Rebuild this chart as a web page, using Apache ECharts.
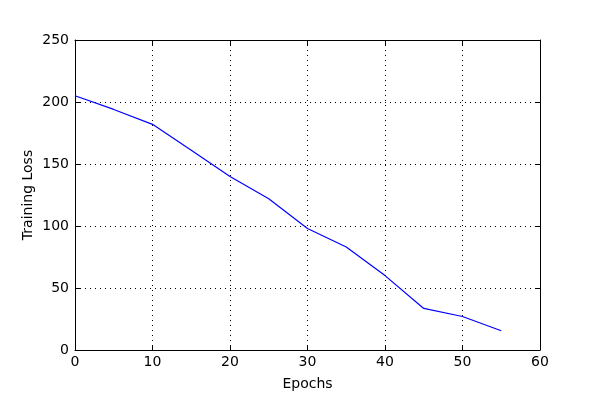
<!DOCTYPE html>
<html>
<head>
<meta charset="utf-8">
<script src="https://cdn.jsdelivr.net/npm/echarts@6/dist/echarts.min.js"></script>
<style>html,body{margin:0;padding:0;background:#fff}#c{width:600px;height:400px}</style>
</head>
<body>
<div id="c"></div>
<script>
const epochs = [0, 5, 10, 15, 20, 25, 30, 35, 40, 45, 50, 55];
const loss = [205, 194, 182, 161, 140, 122, 98, 83, 60, 33.5, 27, 15.5];
const xTicks = [0, 10, 20, 30, 40, 50, 60];
const yTicks = [0, 50, 100, 150, 200, 250];

const font = 'DejaVu Sans';
const chart = echarts.init(document.getElementById('c'));
const gridLine = {show: true, lineStyle: {color: '#000', type: [1, 4], width: 1}};
const axisLineStyle = {show: true, onZero: false, lineStyle: {color: '#000', width: 1}};
const tickStyle = {show: true, inside: true, length: 5, lineStyle: {color: '#000', width: 1}};
chart.setOption({
  animation: false,
  backgroundColor: '#fff',
  grid: {left: 75, right: 60, top: 40, bottom: 50, containLabel: false},
  xAxis: [{
    type: 'value', min: 0, max: 60, interval: 10, position: 'bottom',
    name: 'Epochs', nameLocation: 'middle', nameGap: 27, nameMoveOverlap: false,
    nameTextStyle: {fontFamily: font, fontSize: 14, color: '#000'},
    axisLine: axisLineStyle, axisTick: tickStyle, splitLine: gridLine,
    axisLabel: {fontFamily: font, fontSize: 14, color: '#000', margin: 5,
      formatter: v => xTicks.includes(v) ? String(v) : ''}
  }, {
    type: 'value', min: 0, max: 60, interval: 10, position: 'top',
    axisLine: axisLineStyle, axisTick: tickStyle, splitLine: {show: false},
    axisLabel: {show: false}
  }],
  yAxis: [{
    type: 'value', min: 0, max: 250, interval: 50, position: 'left',
    name: 'Training Loss', nameLocation: 'middle', nameGap: 40, nameMoveOverlap: false,
    nameTextStyle: {fontFamily: font, fontSize: 14, color: '#000'},
    axisLine: axisLineStyle, axisTick: tickStyle, splitLine: gridLine,
    axisLabel: {fontFamily: font, fontSize: 14, color: '#000', margin: 6,
      formatter: v => yTicks.includes(v) ? String(v) : ''}
  }, {
    type: 'value', min: 0, max: 250, interval: 50, position: 'right',
    axisLine: axisLineStyle, axisTick: tickStyle, splitLine: {show: false},
    axisLabel: {show: false}
  }],
  series: [{
    type: 'line', xAxisIndex: 0, yAxisIndex: 0,
    data: epochs.map((e, i) => [e, loss[i]]),
    showSymbol: false, symbol: 'none',
    lineStyle: {color: '#0000ff', width: 1.2}
  }]
});
</script>
</body>
</html>
